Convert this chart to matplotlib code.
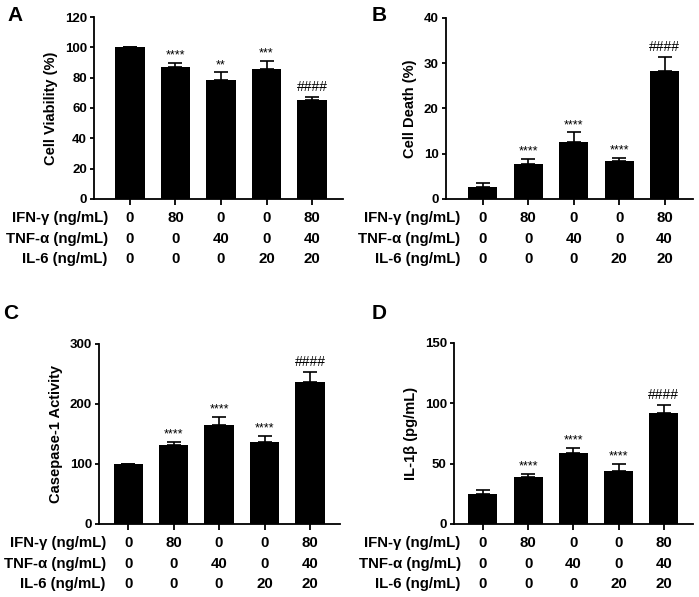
import matplotlib
matplotlib.use("Agg")
import matplotlib.pyplot as plt
import numpy as np

plt.rcParams['font.family'] = ['Liberation Sans', 'DejaVu Sans']
plt.rcParams['font.weight'] = 'bold'
plt.rcParams['axes.labelweight'] = 'bold'

ifn = ['0', '80', '0', '0', '80']
tnf = ['0', '0', '40', '0', '40']
il6 = ['0', '0', '0', '20', '20']
row_labels = ['IFN-\u03b3 (ng/mL)', 'TNF-\u03b1 (ng/mL)', 'IL-6 (ng/mL)']

viability = [100, 87, 78.5, 85.5, 65]
viability_err = [0, 2.5, 5, 5.5, 2.5]
viability_marks = ['', '****', '**', '***', '####']

death = [2.6, 7.7, 12.5, 8.3, 28.2]
death_err = [1.0, 1.1, 2.2, 0.8, 3.2]
death_marks = ['', '****', '****', '****', '####']

casp = [100, 131, 165, 136, 237]
casp_err = [0, 6, 14, 11, 17]
casp_marks = ['', '****', '****', '****', '####']

il1b = [25, 39, 59, 43.5, 92]
il1b_err = [3, 2.5, 4, 6, 6.5]
il1b_marks = ['', '****', '****', '****', '####']

panels = [
    # letter, values, errors, marks, ylabel, ymax, yticks, rect, xlim, letter pos
    ('A', viability, viability_err, viability_marks, 'Cell Viability (%)', 120,
     [0, 20, 40, 60, 80, 100, 120], [0.1345, 0.6667, 0.3562, 0.3048], (-0.79, 4.68), (0.010, 0.990)),
    ('B', death, death_err, death_marks, 'Cell Death (%)', 40,
     [0, 10, 20, 30, 40], [0.638, 0.6667, 0.353, 0.3032], (-0.81, 4.62), (0.532, 0.990)),
    ('C', casp, casp_err, casp_marks, 'Casepase-1 Activity', 300,
     [0, 100, 200, 300], [0.1416, 0.1223, 0.3448, 0.3015], (-0.64, 4.66), (0.004, 0.490)),
    ('D', il1b, il1b_err, il1b_marks, 'IL-1\u03b2 (pg/mL)', 150,
     [0, 50, 100, 150], [0.6495, 0.1223, 0.3415, 0.3032], (-0.64, 4.64), (0.532, 0.490)),
]

fig = plt.figure(figsize=(6.99, 5.97), dpi=100)
x = np.arange(5)

for letter, vals, errs, marks, ylabel, ymax, yticks, rect, xlim, lpos in panels:
    ax = fig.add_axes(rect)
    ax.bar(x, vals, width=0.64, color='black', zorder=2)
    ax.errorbar(x, vals, yerr=[np.zeros(5), errs], fmt='none', ecolor='black',
                elinewidth=1.2, capsize=5.2, capthick=1.2, zorder=3)
    ax.set_xlim(*xlim)
    ax.set_ylim(0, ymax)
    ax.set_yticks(yticks)
    ax.set_xticks(x)
    ax.set_xticklabels([])
    ax.spines['top'].set_visible(False)
    ax.spines['right'].set_visible(False)
    ax.spines['left'].set_linewidth(1.3)
    ax.spines['bottom'].set_linewidth(1.3)
    ax.tick_params(axis='x', direction='out', length=4.5, width=1.3)
    ax.tick_params(axis='y', direction='out', length=3.2, width=1.3, pad=2, labelsize=9.5)
    for lab in ax.get_yticklabels():
        lab.set_fontweight('bold')
    ax.set_ylabel(ylabel, fontsize=10.5, fontweight='bold', labelpad=5)

    # significance marks
    for i, m in enumerate(marks):
        if not m:
            continue
        top = vals[i] + errs[i]
        if m.startswith('#'):
            ax.annotate(m, xy=(i, top), xytext=(0, 2), textcoords='offset points',
                        ha='center', va='bottom', fontsize=10, fontweight='normal')
        else:
            ax.annotate(m, xy=(i, top), xytext=(0, 1), textcoords='offset points',
                        ha='center', va='bottom', fontsize=9, fontweight='normal')

    # treatment table below the axis
    rows = [ifn, tnf, il6]
    offsets = [19, 40, 60]
    for r, (row, off) in enumerate(zip(rows, offsets)):
        ax.annotate(row_labels[r], xy=(0, 0), xycoords=('data', 'axes fraction'),
                    xytext=(-16, -off * 0.72), textcoords='offset points',
                    ha='right', va='center', fontsize=10.8, fontweight='bold',
                    annotation_clip=False)
        for i, v in enumerate(row):
            ax.annotate(v, xy=(i, 0), xycoords=('data', 'axes fraction'),
                        xytext=(0, -off * 0.72), textcoords='offset points',
                        ha='center', va='center', fontsize=10.8, fontweight='bold',
                        annotation_clip=False)

    fig.text(lpos[0], lpos[1], letter, fontsize=15, fontweight='bold', ha='left', va='top')

fig.savefig('out.png', dpi=100)
plt.close(fig)
